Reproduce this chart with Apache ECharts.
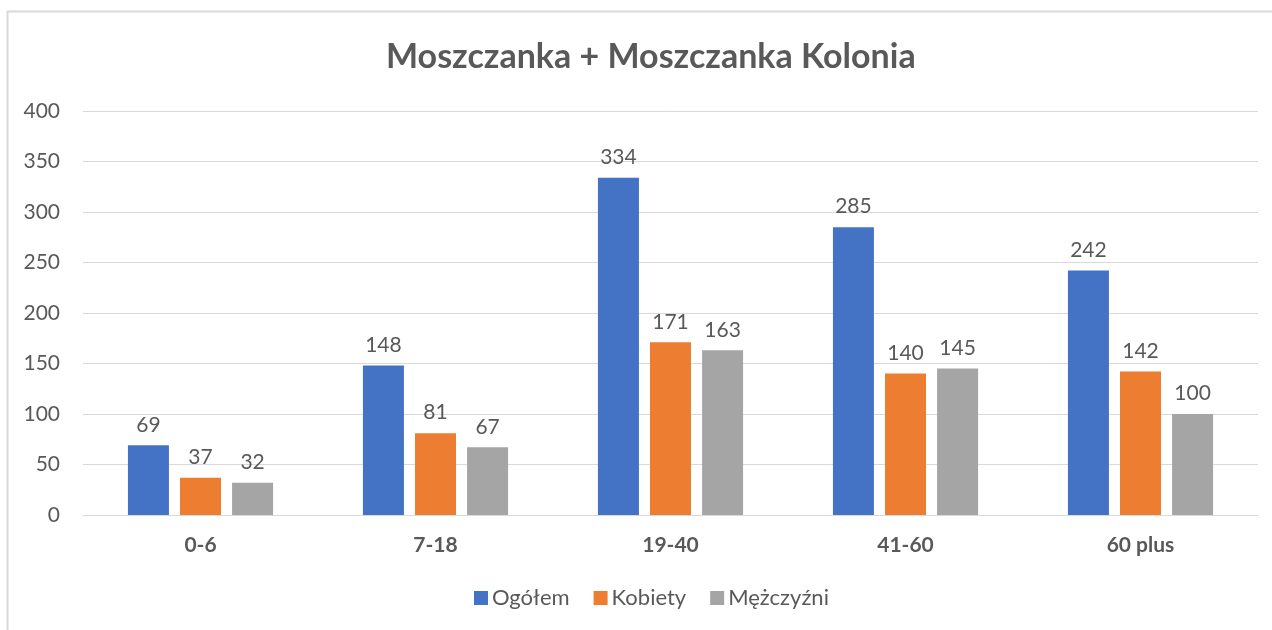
<!DOCTYPE html>
<html><head><meta charset="utf-8">
<script src="https://cdn.jsdelivr.net/npm/echarts@6/dist/echarts.min.js"></script>
<style>html,body{margin:0;padding:0;background:#fff}#c{width:1272px;height:630px}</style>
</head><body><div id="c"></div>
<script>
const categories = ['0-6', '7-18', '19-40', '41-60', '60 plus'];
const seriesNames = ['Ogółem', 'Kobiety', 'Mężczyźni'];
const ogolem = [69, 148, 334, 285, 242];
const kobiety = [37, 81, 171, 140, 142];
const mezczyzni = [32, 67, 163, 145, 100];
const colors = ['#4472C4', '#ED7D31', '#A5A5A5'];
const FONT = 'Lato, "Open Sans", sans-serif';
const TXT = '#595959';

const chart = echarts.init(document.getElementById('c'));
const values = [ogolem, kobiety, mezczyzni];
chart.setOption({
  animation: false,
  textStyle: { fontFamily: FONT },
  title: {
    text: 'Moszczanka + Moszczanka Kolonia',
    left: 381, top: 35,
    textStyle: { fontFamily: FONT, fontSize: 34, fontWeight: 'bold', color: TXT }
  },
  legend: {
    bottom: 16, left: 469,
    itemWidth: 14, itemHeight: 14, itemGap: 24,
    icon: 'rect',
    textStyle: { fontFamily: FONT, fontSize: 22, color: TXT, padding: [0, 0, 0, -1] },
    data: seriesNames
  },
  grid: { left: 83, right: 14, top: 111, bottom: 115, containLabel: false },
  xAxis: {
    type: 'category', data: categories,
    axisLine: { lineStyle: { color: '#d9d9d9', width: 1 } },
    axisTick: { show: false },
    axisLabel: { fontFamily: FONT, fontSize: 21, fontWeight: 'bold', color: TXT, margin: 20 }
  },
  yAxis: {
    type: 'value', min: 0, max: 400, interval: 50,
    axisLine: { show: false }, axisTick: { show: false },
    splitLine: { lineStyle: { color: '#d9d9d9', width: 1 } },
    axisLabel: { fontFamily: FONT, fontSize: 21, color: TXT, margin: 23 }
  },
  graphic: [
    { type: 'polyline', shape: { points: [[7.5, 640], [7.5, 11.5], [1280, 11.5]] },
      style: { stroke: '#d9d9d9', lineWidth: 2, fill: null }, silent: true }
  ],
  series: seriesNames.map((n, i) => ({
    name: n, type: 'bar', data: values[i],
    barWidth: 41, barGap: '27%',
    itemStyle: { color: colors[i] },
    label: { show: true, position: 'top', distance: 10, fontFamily: FONT, fontSize: 21, color: TXT }
  }))
});
</script></body></html>
